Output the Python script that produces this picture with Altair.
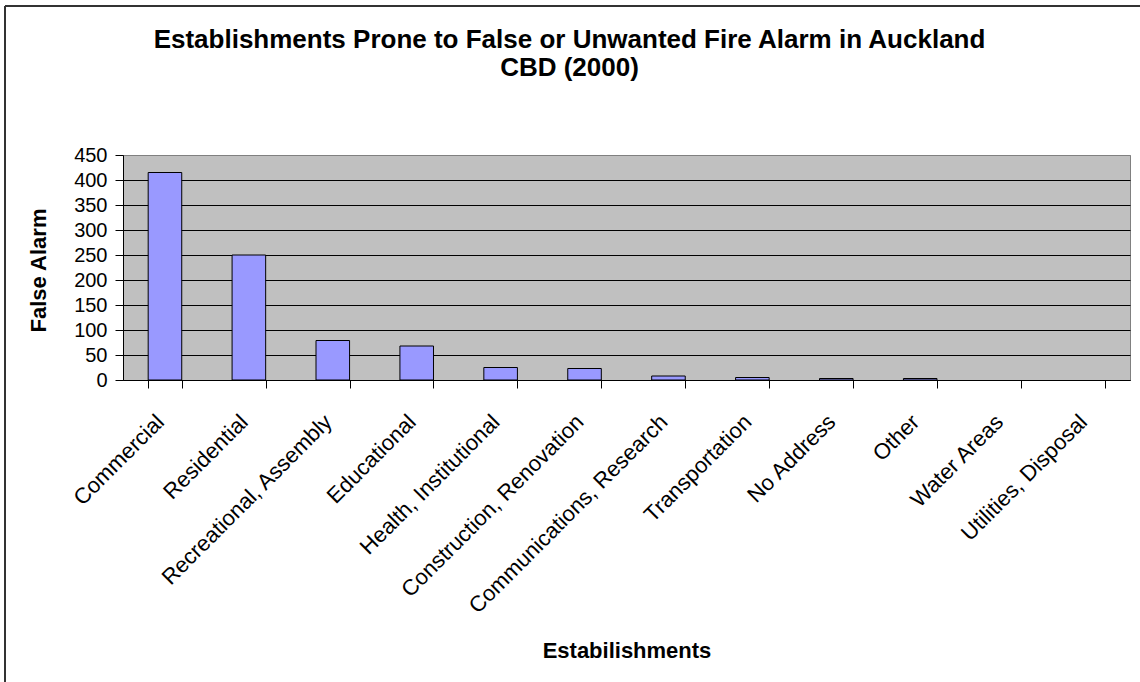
import altair as alt
import pandas as pd

# False / unwanted fire alarm counts by establishment type, Auckland CBD, 2000
establishments = [
    "Commercial",
    "Residential",
    "Recreational, Assembly",
    "Educational",
    "Health, Institutional",
    "Construction, Renovation",
    "Communications, Research",
    "Transportation",
    "No Address",
    "Other",
    "Water Areas",
    "Utilities, Disposal",
]
false_alarms = [415, 250, 79, 68, 25, 23, 8, 5, 3, 3, 0, 0]
y_ticks = [0, 50, 100, 150, 200, 250, 300, 350, 400, 450]

df = pd.DataFrame({"Establishment": establishments, "FalseAlarm": false_alarms})

FONT = "Liberation Sans"
W, H = 1007, 225

bars = alt.Chart(df).mark_bar(
    color="#9999FF", stroke="#000000", strokeWidth=1
).encode(
    x=alt.X(
        "Establishment:N",
        sort=establishments,
        scale=alt.Scale(paddingInner=0.6, paddingOuter=0.3),
        axis=alt.Axis(
            title="Estabilishments",
            labelAngle=-45,
            labelAlign="right",
            labelBaseline="middle",
            labelFont=FONT,
            labelFontSize=22,
            labelColor="#000000",
            labelPadding=30,
            labelOffset=-5,
            labelLimit=0,
            tickBand="extent",
            tickSize=8,
            tickColor="#000000",
            domainColor="#000000",
            grid=False,
            titleFont=FONT,
            titleFontSize=22,
            titleFontWeight="bold",
            titleColor="#000000",
            titleY=277,
            titleBaseline="alphabetic",
        ),
    ),
    y=alt.Y(
        "FalseAlarm:Q",
        scale=alt.Scale(domain=[0, 450], nice=False),
        axis=alt.Axis(
            title="False Alarm",
            values=y_ticks,
            labelFont=FONT,
            labelFontSize=20,
            labelColor="#000000",
            labelPadding=8,
            tickSize=8,
            tickColor="#000000",
            domainColor="#000000",
            # top gridline merges with the grey plot-area border
            gridColor=alt.condition(
                alt.datum.value >= 450, alt.value("#808080"), alt.value("#000000")
            ),
            gridOpacity=1,
            titleFont=FONT,
            titleFontSize=22,
            titleFontWeight="bold",
            titleColor="#000000",
            titleAngle=-90,
            titleAlign="center",
            titleBaseline="middle",
            titleX=-85,
            titleY=115,
        ),
    ),
    # empty categories leave no outline on the baseline
    strokeOpacity=alt.condition(
        alt.datum.FalseAlarm > 0, alt.value(1), alt.value(0)
    ),
)

# outer frame lines along the top and left edges of the figure
frame_top = alt.Chart(df).mark_rule(color="#333333", strokeWidth=2).encode(
    x=alt.value(-118), x2=alt.value(W + 20), y=alt.value(-149)
)
frame_left = alt.Chart(df).mark_rule(color="#333333", strokeWidth=2).encode(
    x=alt.value(-118), y=alt.value(-149), y2=alt.value(H + 320)
)

chart = alt.layer(bars, frame_top, frame_left).properties(
    width=W,
    height=H,
    background="#FFFFFF",
    title=alt.TitleParams(
        text=[
            "Establishments Prone to False or Unwanted Fire Alarm in Auckland",
            "CBD (2000)",
        ],
        font=FONT,
        fontSize=26,
        fontWeight="bold",
        color="#000000",
        lineHeight=28,
        anchor="middle",
        frame="group",
        dx=-57,
        offset=-76,
    ),
    autosize=alt.AutoSizeParams(type="none"),
    padding={"left": 123, "top": 155, "right": 10, "bottom": 302},
).configure_view(
    fill="#C0C0C0", stroke="#808080", strokeWidth=1
)

chart.save("out.html", embed_options={"renderer": "svg", "actions": False})
